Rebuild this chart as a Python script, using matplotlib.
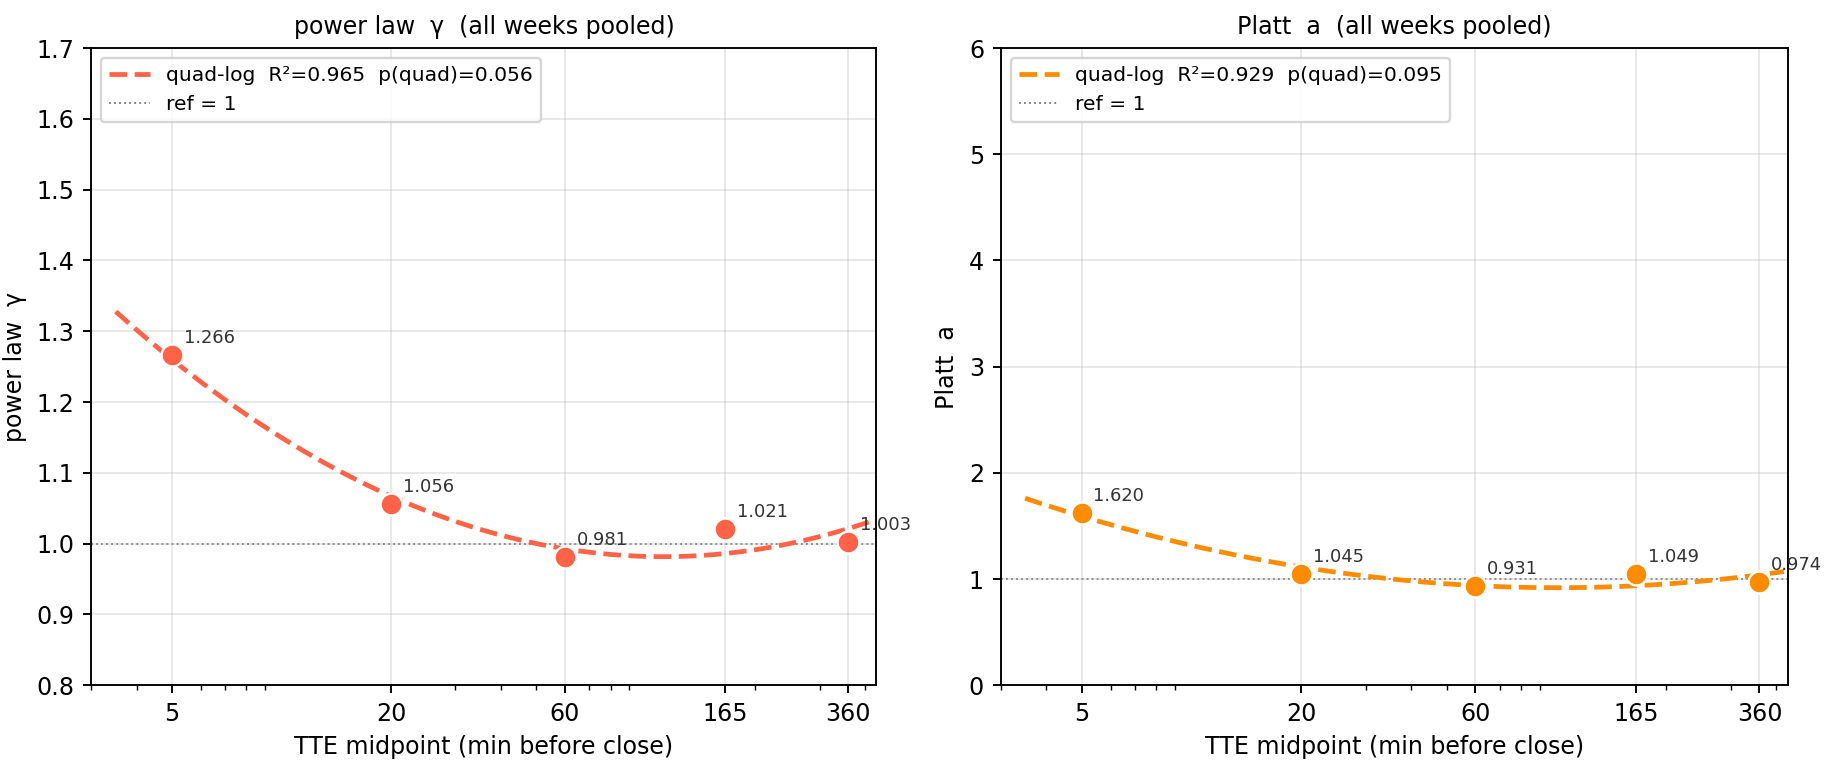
import matplotlib.pyplot as plt
import numpy as np
from matplotlib.ticker import FixedLocator, NullFormatter

# TTE bucket midpoints (minutes before close)
tte_mid = [5, 20, 60, 165, 360]
tick_labels = ["5", "20", "60", "165", "360"]

# pooled fit parameters per bucket
gamma_vals = [1.266, 1.056, 0.981, 1.021, 1.003]
platt_a_vals = [1.620, 1.045, 0.931, 1.049, 0.974]

gamma_r2, gamma_p = 0.965, 0.056
platt_r2, platt_p = 0.929, 0.095

panels = [
    ("power law  γ", gamma_vals, gamma_r2, gamma_p, "#FF6347", (0.8, 1.7)),
    ("Platt  a", platt_a_vals, platt_r2, platt_p, "#FF8C00", (0, 6)),
]

DPI = 171
fig = plt.figure(figsize=(1826 / DPI, 776 / DPI), dpi=DPI)
axes = [fig.add_axes([0.05, 0.117, 0.43, 0.821]),
        fig.add_axes([0.548, 0.117, 0.431, 0.821])]

x = np.array(tte_mid, dtype=float)
lx = np.log(x)
x_fit = np.exp(np.linspace(np.log(3.5), np.log(420), 200))

for ax, (name, vals, r2, pq, color, ylim) in zip(axes, panels):
    y = np.array(vals)
    # quadratic in log(TTE)
    coef = np.polyfit(lx, y, 2)
    y_fit = np.polyval(coef, np.log(x_fit))

    ax.plot(x_fit, y_fit, "--", color=color, lw=2.0,
            label=f"quad-log  R²={r2:.3f}  p(quad)={pq:.3f}", zorder=2)
    ax.axhline(1.0, color="gray", ls=":", lw=0.8, label="ref = 1", zorder=1)
    ax.scatter(x, y, s=85, color=color, edgecolor="white", linewidth=1.0, zorder=3)
    for xi, yi in zip(x, y):
        ax.annotate(f"{yi:.3f}", (xi, yi), xytext=(5, 5), textcoords="offset points",
                    fontsize=7.5, color="#333333")

    ax.set_xscale("log")
    ax.set_xlim(3.0, 430)
    ax.xaxis.set_major_locator(FixedLocator(tte_mid))
    ax.set_xticklabels(tick_labels)
    ax.xaxis.set_minor_formatter(NullFormatter())
    ax.set_ylim(*ylim)
    ax.set_xlabel("TTE midpoint (min before close)")
    ax.set_ylabel(name)
    ax.set_title(f"{name}  (all weeks pooled)", fontsize=10)
    ax.grid(True, alpha=0.3)
    ax.legend(loc="upper left", fontsize=8.5)

fig.savefig("out.png", dpi=DPI)
